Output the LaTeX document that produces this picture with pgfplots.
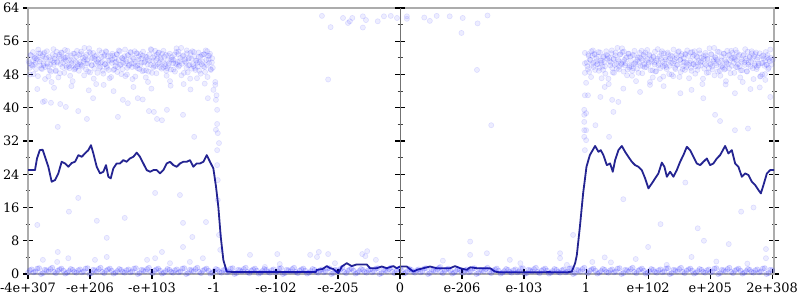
\documentclass[border=0pt]{standalone}
\usepackage{pgfplots}
\pgfplotsset{compat=1.18}
\usepackage{fontspec}
\setmainfont{DejaVu Serif}
\definecolor{linecol}{RGB}{36,36,145}
\definecolor{axgray}{RGB}{172,172,172}
\pgfplotsset{
  dots/.style={only marks, mark=*, mark size=2.6bp,
    mark options={draw=blue, fill=blue, draw opacity=0.10, fill opacity=0.07, line width=0.6bp}},
  band/.style={only marks, mark=*, mark size=2.6bp,
    mark options={draw=blue, fill=blue, draw opacity=0.14, fill opacity=0.12, line width=0.6bp}},
}
\begin{document}
\begin{tikzpicture}
\path[use as bounding box] (-28bp,-26bp) rectangle (772bp,274bp);
\begin{axis}[
  at={(0,0)}, anchor=south west,
  scale only axis, width=746bp, height=266bp,
  xmin=0, xmax=12.03, ymin=0, ymax=64,
  xtick={0,...,12},
  xticklabels={-4e+307,-e+206,-e+103,-1,-e-102,-e-205,0,e-206,e-103,1,e+102,e+205,2e+308},
  ytick={0,8,...,64},
  minor ytick={4,12,...,60},
  xtick pos=left,
  ytick pos=both,
  yticklabel pos=left,
  tick align=center,
  major tick length=10bp,
  minor tick length=5bp,
  major tick style={black, line width=1.2bp},
  minor tick style={black!75, line width=0.8bp},
  axis line style={axgray, line width=2bp},
  tick label style={font=\fontsize{13}{15}\selectfont},
  /pgf/number format/assume math mode=true,
]
% upper cluster, left
\addplot[dots] coordinates {
(0.01,51.2) (0.03,49.6) (0.04,52.7) (0.06,50.3) (0.08,53.4) (0.09,48.1) (0.11,51.9) (0.12,50.8) (0.14,52.4) (0.16,47.6)
(0.175,53.1) (0.195,50.2) (0.205,51.6) (0.225,49.3) (0.245,52.9) (0.255,50.6) (0.275,46.9) (0.285,51.8) (0.305,53.6) (0.325,49.9)
(0.34,52.2) (0.36,50.4) (0.37,48.7) (0.39,51.3) (0.41,54.1) (0.42,50.9) (0.44,52.5) (0.45,49.0) (0.47,51.1) (0.49,47.3)
(0.505,52.8) (0.525,50.5) (0.535,53.3) (0.555,49.8) (0.575,51.7) (0.585,48.4) (0.605,52.1) (0.615,50.1) (0.635,53.7) (0.655,51.4)
(0.67,49.5) (0.69,52.6) (0.70,50.7) (0.72,46.4) (0.74,51.5) (0.75,53.0) (0.77,49.7) (0.78,52.3) (0.80,50.0) (0.82,48.9)
(0.835,51.0) (0.855,53.5) (0.865,50.2) (0.885,52.0) (0.905,47.8) (0.915,51.6) (0.935,49.2) (0.945,52.8) (0.965,50.6) (0.985,54.3)
(1.00,48.5) (1.02,51.8) (1.03,50.3) (1.05,53.2) (1.07,49.4) (1.08,52.4) (1.10,45.7) (1.11,51.2) (1.13,50.9) (1.15,53.8)
(1.165,49.9) (1.185,52.2) (1.195,51.0) (1.215,48.2) (1.235,52.7) (1.245,50.5) (1.265,53.4) (1.275,49.6) (1.295,51.3) (1.315,47.1)
(1.33,52.5) (1.35,50.8) (1.36,53.0) (1.38,49.1) (1.40,51.9) (1.41,50.0) (1.43,52.9) (1.44,48.6) (1.46,51.5) (1.48,53.6)
(1.495,50.4) (1.515,52.0) (1.525,49.3) (1.545,51.7) (1.565,54.0) (1.575,50.7) (1.595,48.0) (1.605,52.6) (1.625,50.1) (1.645,51.4)
(1.66,53.3) (1.68,49.8) (1.69,52.1) (1.71,50.6) (1.73,47.5) (1.74,51.1) (1.76,53.1) (1.77,49.5) (1.79,52.4) (1.81,50.2)
(1.825,51.8) (1.845,48.8) (1.855,53.5) (1.875,50.9) (1.895,52.3) (1.905,49.0) (1.925,51.6) (1.935,46.2) (1.955,52.8) (1.975,50.3)
(1.99,53.9) (2.01,51.3) (2.02,49.7) (2.04,52.5) (2.06,50.0) (2.07,48.3) (2.09,51.9) (2.10,53.2) (2.12,50.8) (2.14,52.1)
(2.155,49.4) (2.175,51.0) (2.185,53.7) (2.205,50.5) (2.225,52.7) (2.235,47.7) (2.255,51.4) (2.265,50.1) (2.285,53.0) (2.305,49.2)
(2.32,52.2) (2.34,50.7) (2.35,51.5) (2.37,48.7) (2.39,53.4) (2.40,50.4) (2.42,52.9) (2.43,49.9) (2.45,51.2) (2.47,54.4)
(2.485,50.6) (2.505,52.6) (2.515,48.4) (2.535,51.7) (2.555,49.6) (2.565,53.1) (2.585,50.2) (2.595,52.0) (2.615,47.0) (2.635,51.8)
(2.65,53.6) (2.67,50.0) (2.68,52.4) (2.70,49.1) (2.72,51.3) (2.73,50.8) (2.75,53.3) (2.76,48.9) (2.78,52.3) (2.80,50.5)
(2.815,51.1) (2.835,52.8) (2.845,49.8) (2.865,53.8) (2.885,50.3) (2.895,47.4) (2.915,51.6) (2.925,52.5) (2.945,49.3) (2.965,50.9)
};
\addplot[dots] coordinates {
(0.02,50.7) (0.035,48.0) (0.05,52.6) (0.07,50.1) (0.085,51.4) (0.10,50.4) (0.115,52.0) (0.13,49.3) (0.145,51.7) (0.165,54.0)
(0.185,51.1) (0.20,53.1) (0.215,49.5) (0.235,52.4) (0.25,50.2) (0.265,53.3) (0.28,49.8) (0.295,52.1) (0.31,50.6) (0.33,47.5)
(0.35,49.0) (0.365,51.6) (0.38,46.2) (0.40,52.8) (0.415,50.3) (0.43,51.8) (0.445,48.8) (0.46,53.5) (0.475,50.9) (0.495,52.3)
(0.515,48.3) (0.53,51.9) (0.545,53.2) (0.565,50.8) (0.58,52.1) (0.595,53.9) (0.61,51.3) (0.625,49.7) (0.64,52.5) (0.66,50.0)
(0.68,47.7) (0.695,51.4) (0.71,50.1) (0.73,53.0) (0.745,49.2) (0.76,49.4) (0.775,51.0) (0.79,53.7) (0.805,50.5) (0.825,52.7)
(0.845,50.4) (0.86,52.9) (0.875,49.9) (0.895,51.2) (0.91,54.4) (0.925,52.2) (0.94,50.7) (0.955,51.5) (0.97,48.7) (0.99,53.4)
(1.01,53.1) (1.025,50.2) (1.04,52.0) (1.06,47.0) (1.075,51.8) (1.09,50.6) (1.105,52.6) (1.12,48.4) (1.135,51.7) (1.155,49.6)
(1.175,50.8) (1.19,53.3) (1.205,48.9) (1.225,52.3) (1.24,50.5) (1.255,53.6) (1.27,50.0) (1.285,52.4) (1.30,49.1) (1.32,51.3)
(1.34,47.4) (1.355,51.6) (1.37,52.5) (1.39,49.3) (1.405,50.9) (1.42,51.1) (1.435,52.8) (1.45,49.8) (1.465,53.8) (1.485,50.3)
(1.505,48.1) (1.52,51.9) (1.535,50.8) (1.555,52.4) (1.57,47.6) (1.585,51.2) (1.60,49.6) (1.615,52.7) (1.63,50.3) (1.65,53.4)
(1.67,50.6) (1.685,46.9) (1.70,51.8) (1.72,53.6) (1.735,49.9) (1.75,53.1) (1.765,50.2) (1.78,51.6) (1.795,49.3) (1.815,52.9)
(1.835,50.9) (1.85,52.5) (1.865,49.0) (1.885,51.1) (1.90,47.3) (1.915,52.2) (1.93,50.4) (1.945,48.7) (1.96,51.3) (1.98,54.1)
(2.00,48.4) (2.015,52.1) (2.03,50.1) (2.05,53.7) (2.065,51.4) (2.08,52.8) (2.095,50.5) (2.11,53.3) (2.125,49.8) (2.145,51.7)
(2.165,53.0) (2.18,49.7) (2.195,52.3) (2.215,50.0) (2.23,48.9) (2.245,49.5) (2.26,52.6) (2.275,50.7) (2.29,46.4) (2.31,51.5)
(2.33,51.6) (2.345,49.2) (2.36,52.8) (2.38,50.6) (2.395,54.3) (2.41,51.0) (2.425,53.5) (2.44,50.2) (2.455,52.0) (2.475,47.8)
(2.495,52.4) (2.51,45.7) (2.525,51.2) (2.545,50.9) (2.56,53.8) (2.575,48.5) (2.59,51.8) (2.605,50.3) (2.62,53.2) (2.64,49.4)
(2.66,50.5) (2.675,53.4) (2.69,49.6) (2.71,51.3) (2.725,47.1) (2.74,49.9) (2.755,52.2) (2.77,51.0) (2.785,48.2) (2.805,52.7)
(2.825,50.0) (2.84,52.9) (2.855,48.6) (2.875,51.5) (2.89,53.6) (2.905,52.5) (2.92,50.8) (2.935,53.0) (2.95,49.1) (2.97,51.9)
};
% upper cluster, right
\addplot[dots] coordinates {
(9.01,50.9) (9.03,49.3) (9.04,52.5) (9.06,51.6) (9.08,47.4) (9.09,50.3) (9.11,53.8) (9.12,49.8) (9.14,52.8) (9.16,51.1)
(9.175,50.5) (9.195,52.3) (9.205,48.9) (9.225,53.3) (9.245,50.8) (9.255,51.3) (9.275,49.1) (9.285,52.4) (9.305,50.0) (9.325,53.6)
(9.34,51.8) (9.36,47.0) (9.37,52.0) (9.39,50.2) (9.41,53.1) (9.42,49.6) (9.44,51.7) (9.45,48.4) (9.47,52.6) (9.49,50.6)
(9.505,54.4) (9.525,51.2) (9.535,49.9) (9.555,52.9) (9.575,50.4) (9.585,53.4) (9.605,48.7) (9.615,51.5) (9.635,50.7) (9.655,52.2)
(9.67,49.2) (9.69,53.0) (9.70,50.1) (9.72,51.4) (9.74,47.7) (9.75,52.7) (9.77,50.5) (9.78,53.7) (9.80,51.0) (9.82,49.4)
(9.835,52.1) (9.855,50.8) (9.865,53.2) (9.885,51.9) (9.905,48.3) (9.915,50.0) (9.935,52.5) (9.945,49.7) (9.965,51.3) (9.985,53.9)
(10.00,50.3) (10.02,52.8) (10.03,46.2) (10.05,51.6) (10.07,49.0) (10.08,52.3) (10.10,50.9) (10.11,53.5) (10.13,48.8) (10.15,51.8)
(10.165,50.2) (10.185,52.4) (10.195,49.5) (10.215,53.1) (10.235,51.1) (10.245,47.5) (10.265,50.6) (10.275,52.1) (10.295,49.8) (10.315,53.3)
(10.33,51.4) (10.35,50.1) (10.36,52.6) (10.38,48.0) (10.40,50.7) (10.41,54.0) (10.43,51.7) (10.44,49.3) (10.46,52.0) (10.48,50.4)
(10.495,53.6) (10.515,51.5) (10.525,48.6) (10.545,52.9) (10.565,50.0) (10.575,51.9) (10.595,49.1) (10.605,53.0) (10.625,50.8) (10.645,52.5)
(10.66,47.1) (10.68,51.3) (10.69,49.6) (10.71,53.4) (10.73,50.5) (10.74,52.7) (10.76,48.2) (10.77,51.0) (10.79,52.2) (10.81,49.9)
(10.825,53.8) (10.845,50.9) (10.855,51.2) (10.875,45.7) (10.895,52.4) (10.905,49.4) (10.925,53.2) (10.935,50.3) (10.955,51.8) (10.975,48.5)
(10.99,54.3) (11.01,50.6) (11.02,52.8) (11.04,49.2) (11.06,51.6) (11.07,47.8) (11.09,52.0) (11.10,50.2) (11.12,53.5) (11.14,51.0)
(11.155,48.9) (11.175,50.0) (11.185,52.3) (11.205,49.7) (11.225,53.0) (11.235,51.5) (11.255,46.4) (11.265,50.7) (11.285,52.6) (11.305,49.5)
(11.32,51.4) (11.34,53.7) (11.35,50.1) (11.37,52.1) (11.39,48.4) (11.40,51.7) (11.42,49.8) (11.43,53.3) (11.45,50.5) (11.47,52.8)
(11.485,47.3) (11.505,51.1) (11.515,49.0) (11.535,52.5) (11.555,50.9) (11.565,54.1) (11.585,51.3) (11.595,48.7) (11.615,50.4) (11.635,52.2)
(11.65,49.9) (11.67,53.6) (11.68,51.8) (11.70,46.9) (11.72,50.6) (11.73,52.9) (11.75,49.3) (11.76,51.6) (11.78,50.2) (11.80,53.1)
(11.815,47.6) (11.835,52.4) (11.845,50.8) (11.865,51.9) (11.885,48.1) (11.895,53.4) (11.915,50.3) (11.925,52.7) (11.945,49.6) (11.965,51.2)
(11.98,52.0) (11.99,50.4) (12.01,51.6)
};
\addplot[dots] coordinates {
(9.02,50.0) (9.035,52.9) (9.05,48.6) (9.07,51.5) (9.085,53.6) (9.10,52.5) (9.115,50.8) (9.13,53.0) (9.145,49.1) (9.165,51.9)
(9.185,50.5) (9.20,53.4) (9.215,49.6) (9.235,51.3) (9.25,47.1) (9.265,49.9) (9.28,52.2) (9.295,51.0) (9.31,48.2) (9.33,52.7)
(9.35,52.4) (9.365,45.7) (9.38,51.2) (9.40,50.9) (9.415,53.8) (9.43,48.5) (9.445,51.8) (9.46,50.3) (9.475,53.2) (9.495,49.4)
(9.515,51.6) (9.53,49.2) (9.545,52.8) (9.565,50.6) (9.58,54.3) (9.595,51.0) (9.61,53.5) (9.625,50.2) (9.64,52.0) (9.66,47.8)
(9.68,53.0) (9.695,49.7) (9.71,52.3) (9.73,50.0) (9.745,48.9) (9.76,49.5) (9.775,52.6) (9.79,50.7) (9.805,46.4) (9.825,51.5)
(9.845,48.4) (9.86,52.1) (9.875,50.1) (9.895,53.7) (9.91,51.4) (9.925,52.8) (9.94,50.5) (9.955,53.3) (9.97,49.8) (9.99,51.7)
(10.01,50.9) (10.025,52.5) (10.04,49.0) (10.06,51.1) (10.075,47.3) (10.09,52.2) (10.105,50.4) (10.12,48.7) (10.135,51.3) (10.155,54.1)
(10.175,50.6) (10.19,46.9) (10.205,51.8) (10.225,53.6) (10.24,49.9) (10.255,53.1) (10.27,50.2) (10.285,51.6) (10.30,49.3) (10.32,52.9)
(10.34,48.1) (10.355,51.9) (10.37,50.8) (10.39,52.4) (10.405,47.6) (10.42,51.2) (10.435,49.6) (10.45,52.7) (10.465,50.3) (10.485,53.4)
(10.505,47.4) (10.52,51.6) (10.535,52.5) (10.555,49.3) (10.57,50.9) (10.585,51.1) (10.60,52.8) (10.615,49.8) (10.63,53.8) (10.65,50.3)
(10.67,50.8) (10.685,53.3) (10.70,48.9) (10.72,52.3) (10.735,50.5) (10.75,53.6) (10.765,50.0) (10.78,52.4) (10.795,49.1) (10.815,51.3)
(10.835,53.1) (10.85,50.2) (10.865,52.0) (10.885,47.0) (10.90,51.8) (10.915,50.6) (10.93,52.6) (10.945,48.4) (10.96,51.7) (10.98,49.6)
(11.00,50.4) (11.015,52.9) (11.03,49.9) (11.05,51.2) (11.065,54.4) (11.08,52.2) (11.095,50.7) (11.11,51.5) (11.125,48.7) (11.145,53.4)
(11.165,47.7) (11.18,51.4) (11.195,50.1) (11.215,53.0) (11.23,49.2) (11.245,49.4) (11.26,51.0) (11.275,53.7) (11.29,50.5) (11.31,52.7)
(11.33,48.3) (11.345,51.9) (11.36,53.2) (11.38,50.8) (11.395,52.1) (11.41,53.9) (11.425,51.3) (11.44,49.7) (11.455,52.5) (11.475,50.0)
(11.495,49.0) (11.51,51.6) (11.525,46.2) (11.545,52.8) (11.56,50.3) (11.575,51.8) (11.59,48.8) (11.605,53.5) (11.62,50.9) (11.64,52.3)
(11.66,51.1) (11.675,53.1) (11.69,49.5) (11.71,52.4) (11.725,50.2) (11.74,53.3) (11.755,49.8) (11.77,52.1) (11.785,50.6) (11.805,47.5)
(11.825,50.7) (11.84,48.0) (11.855,52.6) (11.875,50.1) (11.89,51.4) (11.905,50.4) (11.92,52.0) (11.935,49.3) (11.95,51.7) (11.97,54.0)
};
% sparse points
\addplot[dots] coordinates {
(0.24,41.4) (0.27,41.6) (0.37,41.2) (0.52,40.9) (0.61,40.2) (0.81,39.2) (0.95,37.3) (1.05,42.3) (1.45,37.8) (1.53,41.9)
(1.61,41.1) (1.77,42.3) (1.85,42.0) (1.95,39.2) (2.03,39.0) (2.08,37.3) (2.16,37.0) (2.24,39.5) (2.50,38.3) (2.68,33.0)
(2.90,42.3) (0.48,35.4) (0.15,44.5) (0.42,44.8) (0.70,45.2) (0.98,44.2) (1.22,45.5) (1.38,44.0) (1.70,45.0) (1.99,44.6)
(2.30,45.3) (2.62,44.4) (2.85,45.8)
(0.15,11.8) (0.48,5.3) (0.66,15.0) (0.81,18.3) (1.11,12.8) (1.27,8.7) (1.56,13.5) (2.05,19.5) (2.16,5.3) (2.45,19.0)
(2.50,12.3) (2.50,6.5) (2.65,8.9)
(0.24,3.4) (0.47,2.9) (0.65,3.8) (1.08,3.4) (1.27,4.1) (1.92,3.4) (2.05,3.8) (2.29,2.6) (2.61,2.9) (2.82,3.8)
(2.98,49.6) (3.02,46.2) (3.03,41.9) (3.05,39.5) (3.05,36.1) (3.06,33.9) (3.08,31.5) (3.03,34.7) (3.05,29.8) (3.05,26.2)
(3.06,22.6) (3.06,17.8) (3.08,9.4) (3.10,5.8) (3.02,45.5) (2.99,44.3) (2.87,12.5) (3.04,43.0)
(3.58,4.6) (3.82,1.7) (4.06,2.4) (4.02,4.8) (4.66,4.1) (4.69,5.3) (4.84,4.8) (4.95,2.6) (5.44,4.3) (5.47,5.5)
(5.61,3.4) (6.65,1.7) (7.13,4.6) (7.40,5.0) (7.77,3.4) (7.94,2.6) (8.58,3.8) (8.69,2.2) (9.10,2.9) (4.55,4.6)
(5.39,4.8) (6.69,3.2) (4.84,46.8) (7.24,49.1) (7.47,35.8) (7.13,7.8) (8.79,9.4) (8.58,5.0)
(4.74,62.1) (4.88,59.4) (5.08,61.6) (5.16,60.4) (5.19,60.8) (5.23,61.6) (5.40,62.0) (5.40,59.3) (5.45,61.1) (5.64,60.8)
(5.74,62.0) (5.85,62.1) (5.95,61.6) (6.11,62.0) (6.11,61.4) (6.39,61.7) (6.48,60.9) (6.59,62.1) (6.80,62.0) (7.01,61.6)
(6.99,58.0) (7.25,60.3) (7.41,62.2)
(8.98,53.2) (8.98,50.7) (8.98,48.4) (9.00,46.0) (8.98,43.0) (8.97,39.5) (8.97,38.3) (8.97,36.6) (8.97,34.6) (8.97,33.0)
(9.00,38.7) (9.00,34.6) (9.00,32.2) (8.98,29.8) (9.03,43.0) (9.15,35.8) (9.37,33.0) (9.42,41.9) (9.52,41.4) (9.44,39.0)
(9.23,42.6) (9.87,43.8) (10.03,45.5) (10.52,43.5) (10.89,42.3) (11.08,38.3) (11.16,36.8) (11.40,34.6) (11.61,35.0) (11.65,44.5)
(11.89,46.7) (11.97,42.6) (11.40,43.5) (9.30,45.0) (9.60,44.6) (10.25,45.2) (10.70,44.3) (11.25,45.6) (11.80,44.9)
(9.60,18.0) (10.20,12.0) (10.90,8.0) (11.50,15.0) (11.90,6.0) (9.30,4.0) (10.60,22.0) (9.40,2.8) (9.80,3.6) (10.30,2.2)
(10.70,4.1) (11.10,3.0) (11.60,2.5) (11.90,3.8) (10.00,6.5) (10.80,11.0) (11.30,7.2) (11.70,16.0)
};
% dense band near zero
\addplot[band] coordinates {
(0.00,0.3) (0.06,1.1) (0.12,0.6) (0.18,1.4) (0.24,0.2) (0.30,0.9) (0.36,1.2) (0.42,0.5) (0.48,0.8) (0.54,1.3) (0.60,0.1) (0.66,0.7) (0.72,1.0)
(0.78,0.3) (0.84,1.1) (0.90,0.6) (0.96,1.4) (1.02,0.2) (1.08,0.9) (1.14,1.2) (1.20,0.5) (1.26,0.8) (1.32,1.3) (1.38,0.1) (1.44,0.7) (1.50,1.0)
(1.56,0.3) (1.62,1.1) (1.68,0.6) (1.74,1.4) (1.80,0.2) (1.86,0.9) (1.92,1.2) (1.98,0.5) (2.04,0.8) (2.10,1.3) (2.16,0.1) (2.22,0.7) (2.28,1.0)
(2.34,0.3) (2.40,1.1) (2.46,0.6) (2.52,1.4) (2.58,0.2) (2.64,0.9) (2.70,1.2) (2.76,0.5) (2.82,0.8) (2.88,1.3) (2.94,0.1) (3.00,0.7) (3.06,1.0)
(3.12,0.3) (3.18,1.1) (3.24,0.6) (3.30,1.4) (3.36,0.2) (3.42,0.9) (3.48,1.2) (3.54,0.5) (3.60,0.8) (3.66,1.3) (3.72,0.1) (3.78,0.7) (3.84,1.0)
(3.90,0.3) (3.96,1.1) (4.02,0.6) (4.08,1.4) (4.14,0.2) (4.20,0.9) (4.26,1.2) (4.32,0.5) (4.38,0.8) (4.44,1.3) (4.50,0.1) (4.56,0.7) (4.62,1.0)
(4.68,0.3) (4.74,1.1) (4.80,0.6) (4.86,1.4) (4.92,0.2) (4.98,0.9) (5.04,1.2) (5.10,0.5) (5.16,0.8) (5.22,1.3) (5.28,0.1) (5.34,0.7) (5.40,1.0)
(5.46,0.3) (5.52,1.1) (5.58,0.6) (5.64,1.4) (5.70,0.2) (5.76,0.9) (5.82,1.2) (5.88,0.5) (5.94,0.8) (6.00,1.3) (6.06,0.1) (6.12,0.7) (6.18,1.0)
(6.24,0.3) (6.30,1.1) (6.36,0.6) (6.42,1.4) (6.48,0.2) (6.54,0.9) (6.60,1.2) (6.66,0.5) (6.72,0.8) (6.78,1.3) (6.84,0.1) (6.90,0.7) (6.96,1.0)
(7.02,0.3) (7.08,1.1) (7.14,0.6) (7.20,1.4) (7.26,0.2) (7.32,0.9) (7.38,1.2) (7.44,0.5) (7.50,0.8) (7.56,1.3) (7.62,0.1) (7.68,0.7) (7.74,1.0)
(7.80,0.3) (7.86,1.1) (7.92,0.6) (7.98,1.4) (8.04,0.2) (8.10,0.9) (8.16,1.2) (8.22,0.5) (8.28,0.8) (8.34,1.3) (8.40,0.1) (8.46,0.7) (8.52,1.0)
(8.58,0.3) (8.64,1.1) (8.70,0.6) (8.76,1.4) (8.82,0.2) (8.88,0.9) (8.94,1.2) (9.00,0.5) (9.06,0.8) (9.12,1.3) (9.18,0.1) (9.24,0.7) (9.30,1.0)
(9.36,0.3) (9.42,1.1) (9.48,0.6) (9.54,1.4) (9.60,0.2) (9.66,0.9) (9.72,1.2) (9.78,0.5) (9.84,0.8) (9.90,1.3) (9.96,0.1) (10.02,0.7) (10.08,1.0)
(10.14,0.3) (10.20,1.1) (10.26,0.6) (10.32,1.4) (10.38,0.2) (10.44,0.9) (10.50,1.2) (10.56,0.5) (10.62,0.8) (10.68,1.3) (10.74,0.1) (10.80,0.7) (10.86,1.0)
(10.92,0.3) (10.98,1.1) (11.04,0.6) (11.10,1.4) (11.16,0.2) (11.22,0.9) (11.28,1.2) (11.34,0.5) (11.40,0.8) (11.46,1.3) (11.52,0.1) (11.58,0.7) (11.64,1.0)
(11.70,0.3) (11.76,1.1) (11.82,0.6) (11.88,1.4) (11.94,0.2) (12.00,0.9)
};
\addplot[band] coordinates {
(0.03,0.9) (0.09,0.4) (0.15,1.3) (0.21,0.0) (0.27,1.0) (0.33,0.6) (0.39,1.5) (0.45,0.2) (0.51,1.1) (0.57,0.8) (0.63,0.3) (0.69,1.2) (0.75,0.5)
(0.81,0.9) (0.87,0.4) (0.93,1.3) (0.99,0.0) (1.05,1.0) (1.11,0.6) (1.17,1.5) (1.23,0.2) (1.29,1.1) (1.35,0.8) (1.41,0.3) (1.47,1.2) (1.53,0.5)
(1.59,0.9) (1.65,0.4) (1.71,1.3) (1.77,0.0) (1.83,1.0) (1.89,0.6) (1.95,1.5) (2.01,0.2) (2.07,1.1) (2.13,0.8) (2.19,0.3) (2.25,1.2) (2.31,0.5)
(2.37,0.9) (2.43,0.4) (2.49,1.3) (2.55,0.0) (2.61,1.0) (2.67,0.6) (2.73,1.5) (2.79,0.2) (2.85,1.1) (2.91,0.8) (2.97,0.3) (3.03,1.2) (3.09,0.5)
(3.15,0.9) (3.21,0.4) (3.27,1.3) (3.33,0.0) (3.39,1.0) (3.45,0.6) (3.51,1.5) (3.57,0.2) (3.63,1.1) (3.69,0.8) (3.75,0.3) (3.81,1.2) (3.87,0.5)
(3.93,0.9) (3.99,0.4) (4.05,1.3) (4.11,0.0) (4.17,1.0) (4.23,0.6) (4.29,1.5) (4.35,0.2) (4.41,1.1) (4.47,0.8) (4.53,0.3) (4.59,1.2) (4.65,0.5)
(4.71,0.9) (4.77,0.4) (4.83,1.3) (4.89,0.0) (4.95,1.0) (5.01,0.6) (5.07,1.5) (5.13,0.2) (5.19,1.1) (5.25,0.8) (5.31,0.3) (5.37,1.2) (5.43,0.5)
(5.49,0.9) (5.55,0.4) (5.61,1.3) (5.67,0.0) (5.73,1.0) (5.79,0.6) (5.85,1.5) (5.91,0.2) (5.97,1.1) (6.03,0.8) (6.09,0.3) (6.15,1.2) (6.21,0.5)
(6.27,0.9) (6.33,0.4) (6.39,1.3) (6.45,0.0) (6.51,1.0) (6.57,0.6) (6.63,1.5) (6.69,0.2) (6.75,1.1) (6.81,0.8) (6.87,0.3) (6.93,1.2) (6.99,0.5)
(7.05,0.9) (7.11,0.4) (7.17,1.3) (7.23,0.0) (7.29,1.0) (7.35,0.6) (7.41,1.5) (7.47,0.2) (7.53,1.1) (7.59,0.8) (7.65,0.3) (7.71,1.2) (7.77,0.5)
(7.83,0.9) (7.89,0.4) (7.95,1.3) (8.01,0.0) (8.07,1.0) (8.13,0.6) (8.19,1.5) (8.25,0.2) (8.31,1.1) (8.37,0.8) (8.43,0.3) (8.49,1.2) (8.55,0.5)
(8.61,0.9) (8.67,0.4) (8.73,1.3) (8.79,0.0) (8.85,1.0) (8.91,0.6) (8.97,1.5) (9.03,0.2) (9.09,1.1) (9.15,0.8) (9.21,0.3) (9.27,1.2) (9.33,0.5)
(9.39,0.9) (9.45,0.4) (9.51,1.3) (9.57,0.0) (9.63,1.0) (9.69,0.6) (9.75,1.5) (9.81,0.2) (9.87,1.1) (9.93,0.8) (9.99,0.3) (10.05,1.2) (10.11,0.5)
(10.17,0.9) (10.23,0.4) (10.29,1.3) (10.35,0.0) (10.41,1.0) (10.47,0.6) (10.53,1.5) (10.59,0.2) (10.65,1.1) (10.71,0.8) (10.77,0.3) (10.83,1.2) (10.89,0.5)
(10.95,0.9) (11.01,0.4) (11.07,1.3) (11.13,0.0) (11.19,1.0) (11.25,0.6) (11.31,1.5) (11.37,0.2) (11.43,1.1) (11.49,0.8) (11.55,0.3) (11.61,1.2) (11.67,0.5)
(11.73,0.9) (11.79,0.4) (11.85,1.3) (11.91,0.0) (11.97,1.0)
};
% smoothed line
\addplot[linecol, line width=1.8bp, line join=round] coordinates {
(0,25.0) (0.113,25.0) (0.145,27.8) (0.19,29.8) (0.237,29.9) (0.274,28.2) (0.328,25.8) (0.382,22.2) (0.435,22.6) (0.489,24.2)
(0.543,27.0) (0.597,26.6) (0.65,25.8) (0.704,26.7) (0.758,27.0) (0.812,28.6) (0.866,28.2) (0.919,29.0) (0.973,29.8) (1.016,31.0)
(1.054,29.0) (1.108,25.8) (1.161,24.2) (1.215,24.6) (1.258,26.2) (1.296,23.4) (1.334,23.0) (1.376,25.4) (1.43,26.6) (1.484,26.6)
(1.538,27.4) (1.591,27.0) (1.645,27.8) (1.699,28.2) (1.753,29.2) (1.806,28.2) (1.86,26.6) (1.914,25.0) (1.968,24.6) (2.021,25.0)
(2.075,25.0) (2.129,24.2) (2.183,25.0) (2.237,26.6) (2.29,27.0) (2.344,26.2) (2.398,25.8) (2.452,26.6) (2.505,27.0) (2.559,27.0)
(2.613,27.4) (2.667,25.8) (2.72,26.6) (2.774,26.6) (2.828,27.0) (2.882,28.6) (2.935,27.0) (2.989,25.4) (3.032,21.0) (3.069,16.2)
(3.108,9.0) (3.15,3.4) (3.205,0.55) (3.3,0.5) (3.6,0.45) (4.0,0.5) (4.3,0.45) (4.645,0.5) (4.656,1.0) (4.75,1.2)
(4.818,1.9) (4.871,1.4) (4.924,1.2) (5.005,0.2) (5.06,1.8) (5.14,2.6) (5.22,1.9) (5.30,2.3) (5.463,2.3) (5.516,1.4)
(5.624,1.4) (5.705,1.8) (5.785,1.4) (5.892,1.9) (5.946,1.4) (6.0,1.8) (6.108,1.8) (6.215,0.55) (6.27,1.0) (6.376,1.4)
(6.484,1.8) (6.59,1.4) (6.806,1.4) (6.887,1.9) (6.968,1.4) (7.076,1.0) (7.129,1.6) (7.237,1.4) (7.452,1.4) (7.532,0.55)
(7.613,0.4) (8.0,0.4) (8.4,0.45) (8.688,0.4) (8.769,0.55) (8.823,2.6) (8.85,4.5) (8.9,11.4) (8.952,19.4) (9.006,25.8)
(9.06,28.6) (9.145,30.8) (9.199,29.4) (9.236,29.8) (9.279,28.6) (9.334,26.2) (9.387,26.6) (9.43,24.6) (9.468,27.4) (9.521,29.8)
(9.576,30.8) (9.629,29.4) (9.682,28.2) (9.737,27.0) (9.79,26.2) (9.844,25.8) (9.898,25.0) (9.952,23.0) (10.005,20.6) (10.06,21.8)
(10.113,23.0) (10.166,24.2) (10.221,26.8) (10.263,25.8) (10.302,23.4) (10.355,24.6) (10.408,23.4) (10.463,25.0) (10.516,27.0) (10.569,28.6)
(10.624,30.6) (10.677,29.8) (10.731,28.2) (10.785,26.6) (10.839,26.2) (10.892,27.0) (10.947,27.8) (11.0,26.2) (11.053,26.6) (11.108,27.8)
(11.161,28.6) (11.242,30.8) (11.295,29.0) (11.35,29.8) (11.403,26.6) (11.456,25.8) (11.511,23.4) (11.565,24.2) (11.618,23.8) (11.673,22.2)
(11.726,21.4) (11.779,20.2) (11.818,19.4) (11.86,21.4) (11.915,24.2) (11.968,25.0) (12.03,25.0)
};
\end{axis}
\begin{axis}[
  at={(0,0)}, anchor=south west,
  scale only axis, width=746bp, height=266bp,
  xmin=-6, xmax=6.03, ymin=0, ymax=64,
  axis x line=none, axis y line*=center,
  ytick={0,8,...,64}, minor ytick={4,12,...,60},
  yticklabels={},
  tick align=center,
  major tick length=10bp,
  minor tick length=5bp,
  major tick style={black, line width=1.2bp},
  minor tick style={black!75, line width=0.8bp},
  axis line style={black!55, line width=1bp},
]
\end{axis}
\end{tikzpicture}
\end{document}
